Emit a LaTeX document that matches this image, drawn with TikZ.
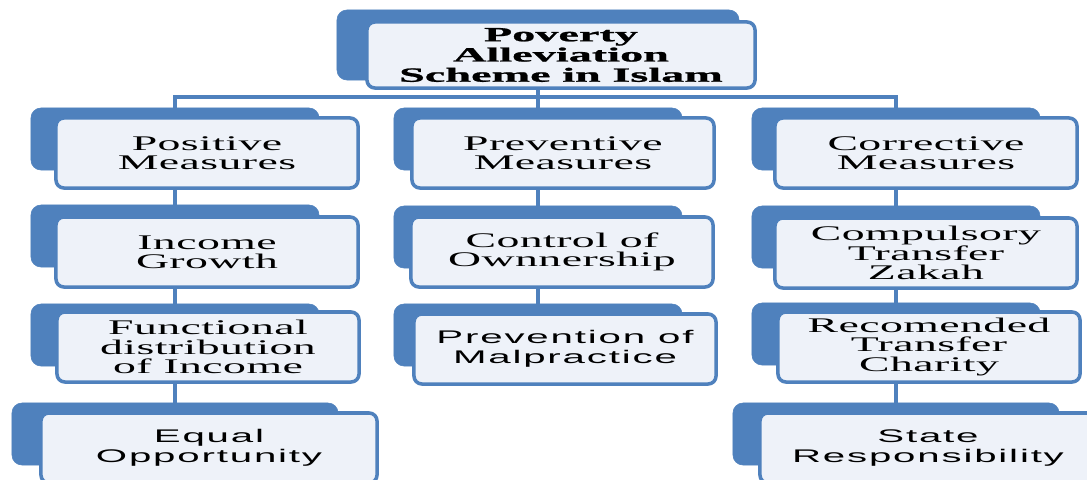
\documentclass[tikz,border=0pt]{standalone}
\usepackage{fontspec}
\usepackage{tikz}
\usetikzlibrary{positioning}
\usetikzlibrary{backgrounds}
\usepackage{xcolor}
\definecolor{myblue}{HTML}{4F81BD}
\definecolor{mypale}{HTML}{EEF2F9}
\newfontfamily\boxserif[FakeStretch=2.2,LetterSpace=2]{Liberation Serif}
\newfontfamily\titleserif[FakeStretch=2.3,BoldFont={Liberation Serif Bold},BoldFeatures={FakeBold=1.2}]{Liberation Serif}
\newfontfamily\boxsans[FakeStretch=2.2,LetterSpace=10]{Liberation Sans}
\tikzset{every text node part/.style={align=center}}
\tikzstyle{back} = [draw=myblue, fill=myblue, rounded corners=0.25cm, minimum width=7.2cm, minimum height=1.55cm, inner sep=0pt]
\tikzstyle{block} = [draw=myblue, fill=mypale, line width=2.5pt, rounded corners=0.2cm, minimum width=7.55cm, minimum height=1.75cm, inner sep=0pt, font={\boxserif\fontsize{14.8}{13.6}\selectfont}]
\tikzstyle{sansblock} = [block, font={\boxsans\fontsize{13}{14.4}\selectfont}]
\tikzstyle{ln} = [draw=myblue, line width=3.5pt]
\begin{document}
\begin{tikzpicture}[x=0.025cm, y=-0.025cm]
  \useasboundingbox (0,0) rectangle (1087,480);

  % Define title block
  \node[back, minimum width=10.05cm, minimum height=1.75cm] (poverty-bg) at (538,45) {};
  \node[block, minimum width=9.7cm, minimum height=1.65cm, font={\titleserif\bfseries\fontsize{14.3}{14.4}\selectfont}] (poverty) at (561,55) {Poverty\\Alleviation\\Scheme in Islam};

  % Define measure blocks
  \node[back] (positive-bg) at (175,139) {};
  \node[block] (positive) at (207,153) {Positive\\Measures};
  \node[back] (preventive-bg) at (538,139) {};
  \node[block] (preventive) at (563,153) {Preventive\\Measures};
  \node[back] (corrective-bg) at (896,139) {};
  \node[block] (corrective) at (926,153) {Corrective\\Measures};

  % Define second row
  \node[back] (income-bg) at (175,236) {};
  \node[block] (income) at (207,252) {Income\\Growth};
  \node[back] (ownership-bg) at (538,237) {};
  \node[block] (ownership) at (562,252) {Control of\\Ownnership};
  \node[back] (zakah-bg) at (896,237) {};
  \node[block] (zakah) at (926,253) {Compulsory\\Transfer\\Zakah};

  % Define third row
  \node[back] (functional-bg) at (175,335) {};
  \node[block] (functional) at (208,347) {Functional\\distribution\\of Income};
  \node[back] (malpractice-bg) at (538,335) {};
  \node[sansblock] (malpractice) at (565,349) {Prevention of\\Malpractice};
  \node[back] (charity-bg) at (896,334) {};
  \node[block] (charity) at (929,347) {Recomended\\Transfer\\Charity};

  % Define last row
  \node[back, minimum width=8.15cm] (equal-bg) at (175,434) {};
  \node[sansblock, minimum width=8.4cm] (equal) at (209,448) {Equal\\Opportunity};
  \node[back, minimum width=8.15cm] (state-bg) at (896,434) {};
  \node[sansblock, minimum width=8.4cm] (state) at (928,448) {State\\Responsibility};

  % Draw lines
  \begin{scope}[on background layer]
    \coordinate (bus) at (538,97);
    \draw[ln] (positive-bg) |- (bus) -| (corrective-bg);
    \draw[ln] (poverty-bg) -- (preventive-bg);
    \draw[ln] (positive-bg) -- (income-bg);
    \draw[ln] (income-bg) -- (functional-bg);
    \draw[ln] (functional-bg) -- (equal-bg);
    \draw[ln] (preventive-bg) -- (ownership-bg);
    \draw[ln] (ownership-bg) -- (malpractice-bg);
    \draw[ln] (corrective-bg) -- (zakah-bg);
    \draw[ln] (zakah-bg) -- (charity-bg);
    \draw[ln] (charity-bg) -- (state-bg);
  \end{scope}
\end{tikzpicture}
\end{document}
